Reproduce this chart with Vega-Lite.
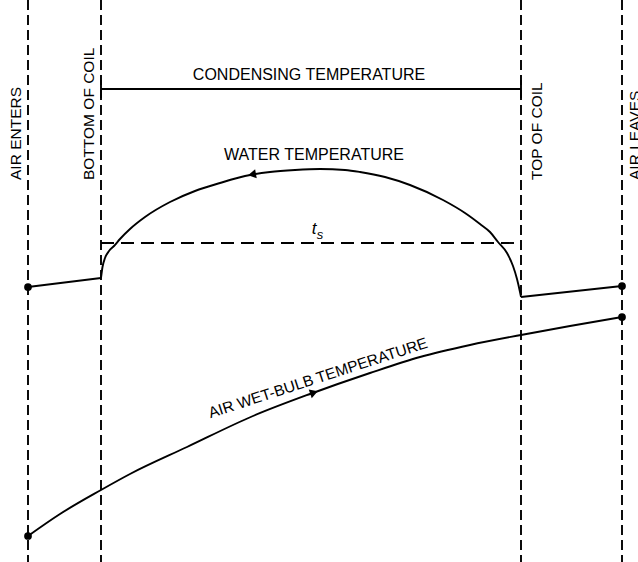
{
  "$schema": "https://vega.github.io/schema/vega-lite/v6.json",
  "width": 638,
  "height": 562,
  "padding": 0,
  "autosize": {"type": "none"},
  "background": "white",
  "config": {"view": {"stroke": null}},
  "datasets": {
    "vlines": [{"x": 28}, {"x": 101}, {"x": 521}, {"x": 622}],
    "condensing": [{"x": 101, "x2": 521, "y": 89}],
    "ticks": [{"x": 101, "y": 80, "y2": 98}, {"x": 521, "y": 80, "y2": 98}],
    "ts": [{"x": 101, "x2": 521, "y": 243}],
    "water": [
      {"o": 1, "x": 101, "y": 278}, {"o": 2, "x": 102.5, "y": 267}, {"o": 3, "x": 105, "y": 258},
      {"o": 4, "x": 109, "y": 251}, {"o": 5, "x": 114, "y": 246}, {"o": 6, "x": 120, "y": 239},
      {"o": 7, "x": 130, "y": 229}, {"o": 8, "x": 145, "y": 217}, {"o": 9, "x": 170, "y": 202},
      {"o": 10, "x": 195, "y": 191}, {"o": 11, "x": 220, "y": 183}, {"o": 12, "x": 245, "y": 176},
      {"o": 13, "x": 270, "y": 172}, {"o": 14, "x": 295, "y": 170}, {"o": 15, "x": 320, "y": 169},
      {"o": 16, "x": 345, "y": 170}, {"o": 17, "x": 360, "y": 172}, {"o": 18, "x": 385, "y": 177},
      {"o": 19, "x": 410, "y": 185}, {"o": 20, "x": 443, "y": 200}, {"o": 21, "x": 465, "y": 213},
      {"o": 22, "x": 480, "y": 224}, {"o": 23, "x": 490, "y": 232}, {"o": 24, "x": 498, "y": 242},
      {"o": 25, "x": 507, "y": 253}, {"o": 26, "x": 513, "y": 266}, {"o": 27, "x": 517, "y": 279},
      {"o": 28, "x": 520, "y": 292}, {"o": 29, "x": 521, "y": 297}
    ],
    "sides": [
      {"s": "left", "x": 28, "y": 287}, {"s": "left", "x": 101, "y": 278},
      {"s": "right", "x": 521, "y": 297}, {"s": "right", "x": 622, "y": 286}
    ],
    "wetbulb": [
      {"o": 1, "x": 28, "y": 536}, {"o": 2, "x": 60, "y": 514}, {"o": 3, "x": 101, "y": 490},
      {"o": 4, "x": 130, "y": 474}, {"o": 5, "x": 187, "y": 447}, {"o": 6, "x": 253, "y": 416},
      {"o": 7, "x": 310, "y": 394}, {"o": 8, "x": 370, "y": 373}, {"o": 9, "x": 420, "y": 357},
      {"o": 10, "x": 470, "y": 345}, {"o": 11, "x": 521, "y": 335}, {"o": 12, "x": 570, "y": 326},
      {"o": 13, "x": 622, "y": 317}
    ],
    "dots": [{"x": 28, "y": 287}, {"x": 622, "y": 286}, {"x": 622, "y": 317}, {"x": 28, "y": 536}],
    "labels": [
      {"t": "CONDENSING TEMPERATURE", "x": 309, "y": 75},
      {"t": "WATER TEMPERATURE", "x": 314, "y": 155}
    ],
    "vlabels": [
      {"t": "AIR ENTERS", "x": 16, "y": 180},
      {"t": "BOTTOM OF COIL", "x": 89, "y": 180},
      {"t": "TOP OF COIL", "x": 537, "y": 180},
      {"t": "AIR LEAVES", "x": 635, "y": 180}
    ]
  },
  "layer": [
    {
      "data": {"name": "vlines"},
      "mark": {"type": "rule", "color": "black", "strokeWidth": 1.9, "strokeDash": [10, 5]},
      "encoding": {"x": {"field": "x", "type": "quantitative", "scale": {"domain": [0, 638], "nice": false, "zero": false}, "axis": null}}
    },
    {
      "data": {"name": "condensing"},
      "mark": {"type": "rule", "color": "black", "strokeWidth": 1.9},
      "encoding": {
        "x": {"field": "x", "type": "quantitative", "scale": {"domain": [0, 638], "nice": false, "zero": false}, "axis": null},
        "x2": {"field": "x2"},
        "y": {"field": "y", "type": "quantitative", "scale": {"domain": [0, 562], "reverse": true, "nice": false, "zero": false}, "axis": null}
      }
    },
    {
      "data": {"name": "ticks"},
      "mark": {"type": "rule", "color": "black", "strokeWidth": 1.9},
      "encoding": {
        "x": {"field": "x", "type": "quantitative"},
        "y": {"field": "y", "type": "quantitative"},
        "y2": {"field": "y2"}
      }
    },
    {
      "data": {"name": "ts"},
      "mark": {"type": "rule", "color": "black", "strokeWidth": 1.9, "strokeDash": [13, 7]},
      "encoding": {
        "x": {"field": "x", "type": "quantitative"},
        "x2": {"field": "x2"},
        "y": {"field": "y", "type": "quantitative"}
      }
    },
    {
      "data": {"name": "water"},
      "mark": {"type": "line", "color": "black", "strokeWidth": 1.9, "interpolate": "monotone"},
      "encoding": {
        "x": {"field": "x", "type": "quantitative"},
        "y": {"field": "y", "type": "quantitative"},
        "order": {"field": "o"}
      }
    },
    {
      "data": {"name": "sides"},
      "mark": {"type": "line", "color": "black", "strokeWidth": 1.9},
      "encoding": {
        "x": {"field": "x", "type": "quantitative"},
        "y": {"field": "y", "type": "quantitative"},
        "detail": {"field": "s"}
      }
    },
    {
      "data": {"name": "wetbulb"},
      "mark": {"type": "line", "color": "black", "strokeWidth": 1.9, "interpolate": "monotone"},
      "encoding": {
        "x": {"field": "x", "type": "quantitative"},
        "y": {"field": "y", "type": "quantitative"},
        "order": {"field": "o"}
      }
    },
    {
      "data": {"name": "dots"},
      "mark": {"type": "point", "shape": "circle", "filled": true, "color": "black", "opacity": 1, "size": 60},
      "encoding": {
        "x": {"field": "x", "type": "quantitative"},
        "y": {"field": "y", "type": "quantitative"}
      }
    },
    {
      "data": {"values": [{"x": 252, "y": 174.5}]},
      "mark": {"type": "point", "shape": "triangle-left", "filled": true, "color": "black", "opacity": 1, "size": 85, "angle": -10},
      "encoding": {
        "x": {"field": "x", "type": "quantitative"},
        "y": {"field": "y", "type": "quantitative"}
      }
    },
    {
      "data": {"values": [{"x": 314, "y": 392.5}]},
      "mark": {"type": "point", "shape": "triangle-right", "filled": true, "color": "black", "opacity": 1, "size": 85, "angle": -19},
      "encoding": {
        "x": {"field": "x", "type": "quantitative"},
        "y": {"field": "y", "type": "quantitative"}
      }
    },
    {
      "data": {"name": "labels"},
      "mark": {"type": "text", "font": "Liberation Sans", "fontSize": 16, "color": "black", "align": "center", "baseline": "middle"},
      "encoding": {
        "x": {"field": "x", "type": "quantitative"},
        "y": {"field": "y", "type": "quantitative"},
        "text": {"field": "t"}
      }
    },
    {
      "data": {"name": "vlabels"},
      "mark": {"type": "text", "font": "Liberation Sans", "fontSize": 15.5, "color": "black", "align": "left", "baseline": "middle", "angle": 270},
      "encoding": {
        "x": {"field": "x", "type": "quantitative"},
        "y": {"field": "y", "type": "quantitative"},
        "text": {"field": "t"}
      }
    },
    {
      "data": {"values": [{"t": "AIR WET-BULB TEMPERATURE", "x": 318, "y": 378}]},
      "mark": {"type": "text", "font": "Liberation Sans", "fontSize": 15.5, "color": "black", "align": "center", "baseline": "middle", "angle": 342},
      "encoding": {
        "x": {"field": "x", "type": "quantitative"},
        "y": {"field": "y", "type": "quantitative"},
        "text": {"field": "t"}
      }
    },
    {
      "data": {"values": [{"t": "t", "x": 314, "y": 229, "fs": "big"}, {"t": "s", "x": 320, "y": 235, "fs": "small"}]},
      "mark": {"type": "text", "font": "Liberation Sans", "fontStyle": "italic", "color": "black", "align": "center", "baseline": "middle"},
      "encoding": {
        "x": {"field": "x", "type": "quantitative"},
        "y": {"field": "y", "type": "quantitative"},
        "text": {"field": "t"},
        "size": {"field": "fs", "type": "nominal", "scale": {"domain": ["big", "small"], "range": [17, 13]}, "legend": null}
      }
    }
  ]
}
